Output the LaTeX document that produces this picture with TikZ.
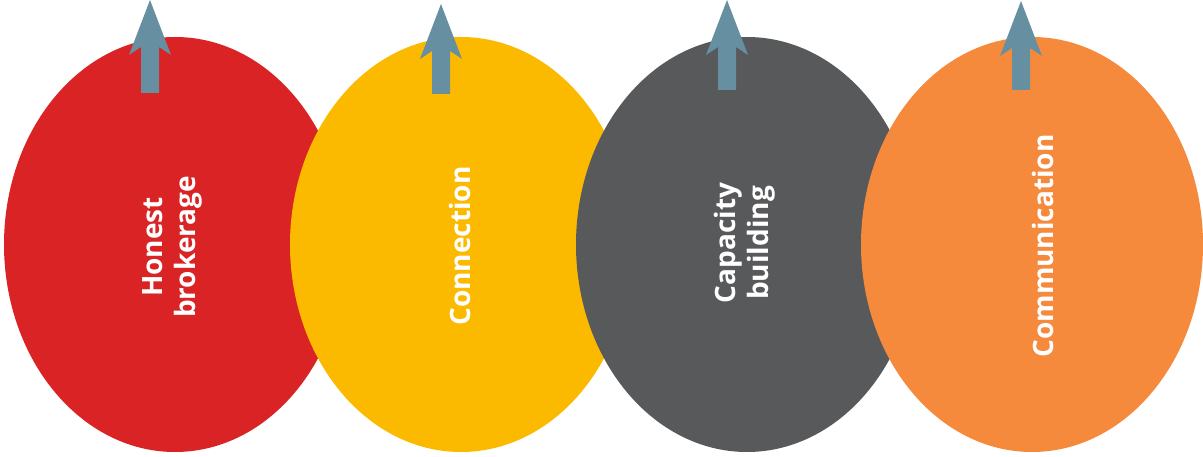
\documentclass[tikz,border=0pt]{standalone}
\usepackage{fontspec}
\newfontfamily\lblfont{Open Sans}
\definecolor{cred}{HTML}{D92324}
\definecolor{cyellow}{HTML}{FBBA00}
\definecolor{cgray}{HTML}{58595B}
\definecolor{corange}{HTML}{F58A3D}
\definecolor{carrow}{HTML}{668FA1}
\tikzset{
  lbl/.style={text=white, font=\lblfont\bfseries\fontsize{28}{33}\selectfont, rotate=90, align=center, inner sep=0pt},
  uparrow/.style={fill=carrow},
}
\newcommand{\uparr}[3]{% x, tip y, bottom y
  \fill[uparrow] (#1,#2) -- ++(21,55) -- ++(-12,-8) -- (#1+9,#3) -- (#1-9,#3) -- (#1-9,#2+47) -- (#1-21,#2+55) -- cycle;}
\begin{document}
\begin{tikzpicture}[x=1pt,y=-1pt]
\useasboundingbox (0,0) rectangle (1203,457);
\fill[cred] (175,244.5) ellipse [x radius=171, y radius=207.5];
\fill[cyellow] (461,244.5) ellipse [x radius=171, y radius=207.5];
\fill[cgray] (747,244.5) ellipse [x radius=171, y radius=207.5];
\fill[corange] (1032,244.5) ellipse [x radius=171, y radius=207.5];
\uparr{150}{0}{93}
\uparr{441}{4}{94}
\uparr{727}{0}{90}
\uparr{1021}{1}{90}
\node[lbl] (t1) at (172,247) {Honest\\brokerage};
\node[lbl] (t2) at (460,246) {Connection};
\node[lbl] (t3) at (745,243) {Capacity\\building};
\node[lbl] (t4) at (1043,246) {Communication};
\end{tikzpicture}
\end{document}
